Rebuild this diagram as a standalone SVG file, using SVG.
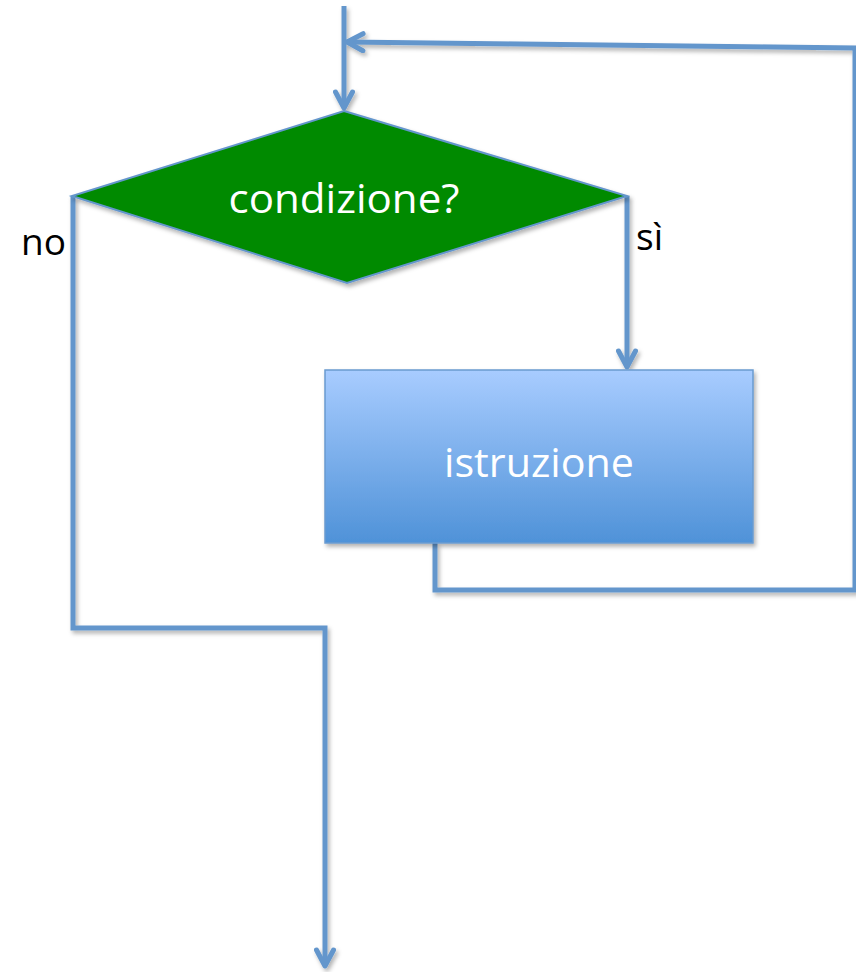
<svg xmlns="http://www.w3.org/2000/svg" width="856" height="972" viewBox="0 0 856 972">
<style>
.conn{fill:none;stroke:#6496cc;stroke-width:5;stroke-linejoin:miter}
.lbl{font-family:"Open Sans","Noto Sans",sans-serif;fill:#000;font-size:37px}
.wt{font-family:"Open Sans","Noto Sans",sans-serif;fill:#fff;font-size:41px;text-anchor:middle}
</style>
<defs>
<marker id="arr" viewBox="0 0 22 22" refX="19" refY="11" markerWidth="22" markerHeight="22" markerUnits="userSpaceOnUse" orient="auto">
<polyline points="3,2.5 19,11 3,19.5" fill="none" stroke="#6496cc" stroke-width="5" stroke-linecap="round" stroke-linejoin="round"/>
</marker>
<linearGradient id="g" x1="0" y1="0" x2="0" y2="1">
<stop offset="0" stop-color="#a8ccff"/>
<stop offset="1" stop-color="#4f92d8"/>
</linearGradient>
<filter id="sh" x="-10%" y="-10%" width="130%" height="130%">
<feDropShadow dx="2" dy="3" stdDeviation="2" flood-color="#000" flood-opacity="0.3"/>
</filter>
</defs>
<g id="connectors" filter="url(#sh)">
<polyline class="conn" points="344,6 344,108" marker-end="url(#arr)"/>
<polyline class="conn" points="435,543 435,590 855,590 855,48 347,42" marker-end="url(#arr)"/>
<polyline class="conn" points="627,196 627,367" marker-end="url(#arr)"/>
<polyline class="conn" points="73,196 73,628 325,628 325,966" marker-end="url(#arr)"/>
</g>
<g id="decision">
<polygon points="344,111 627,196 347,283 72,196" fill="#008a00" stroke="#6496cc" stroke-width="2" filter="url(#sh)"/>
<text class="wt" x="344" y="213" textLength="231" lengthAdjust="spacingAndGlyphs">condizione?</text>
</g>
<g id="istruzione">
<rect x="325" y="370" width="428" height="173" fill="url(#g)" stroke="#6a9bd0" stroke-width="1.5" filter="url(#sh)"/>
<text class="wt" x="539" y="477" textLength="190" lengthAdjust="spacingAndGlyphs">istruzione</text>
</g>
<g id="labels">
<text class="lbl" x="21" y="255">no</text>
<text class="lbl" x="636" y="250">sì</text>
</g>
</svg>
